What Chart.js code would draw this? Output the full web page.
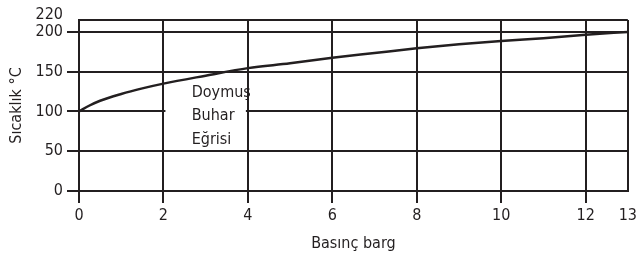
<!DOCTYPE html>
<html><head><meta charset="utf-8">
<script src="https://cdn.jsdelivr.net/npm/chart.js@4/dist/chart.umd.min.js"></script>
<style>html,body{margin:0;padding:0;background:#fff}#wrap{width:640px;height:262px}</style>
</head><body><div id="wrap"><canvas id="c" width="640" height="262"></canvas></div>
<script>
const pressure = [0, 0.25, 0.5, 1, 1.5, 2, 3, 4, 5, 6, 7, 8, 9, 10, 11, 12, 13];
const temperature = [100, 107.5, 113.5, 122, 129, 135, 145, 154.5, 160.5, 167.5, 173.5, 179.5, 184.5, 188.5, 192, 196.5, 200];
const xTicks = [0, 2, 4, 6, 8, 10, 12, 13];
const yTicks = [0, 50, 100, 150, 200];
const yTopLabel = '220';
const curveLabel = ['Doymuş', 'Buhar', 'Eğrisi'];
const xTitle = 'Basınç barg';
const yTitle = 'Sıcaklık °C';

const INK = '#231f20';
const FONT = "'Liberation Sans Narrow', 'DejaVu Sans Condensed', 'Roboto Condensed', sans-serif";
const TOP = 215;

const labelPlugin = {
  id: 'curveLabel',
  beforeDatasetsDraw(chart) {
    const {ctx, scales: {x, y}} = chart;
    ctx.save();
    ctx.fillStyle = '#fff';
    const x0 = x.getPixelForValue(2) + 2, x1 = x.getPixelForValue(4) - 2;
    const y0 = y.getPixelForValue(145), y1 = y.getPixelForValue(56);
    ctx.fillRect(x0, y0, x1 - x0, y1 - y0);
    ctx.fillStyle = INK;
    ctx.font = '16px ' + FONT;
    ctx.textBaseline = 'middle';
    ctx.textAlign = 'left';
    const lx = x.getPixelForValue(2.67);
    const ys = [124, 94, 64];
    curveLabel.forEach((t, i) => ctx.fillText(t, lx, y.getPixelForValue(ys[i])));
    ctx.restore();
  },
  afterDraw(chart) {
    const {ctx, scales: {y}} = chart;
    ctx.save();
    ctx.fillStyle = INK;
    ctx.font = '16px ' + FONT;
    ctx.textAlign = 'right';
    ctx.textBaseline = 'middle';
    ctx.fillText(yTopLabel, y.right - 16, y.getPixelForValue(TOP) - 5);
    ctx.restore();
  }
};

new Chart(document.getElementById('c'), {
  type: 'line',
  data: {
    datasets: [{
      data: pressure.map((p, i) => ({x: p, y: temperature[i]})),
      borderColor: INK,
      borderWidth: 2.5,
      pointRadius: 0,
      cubicInterpolationMode: 'monotone',
      fill: false
    }]
  },
  options: {
    responsive: false,
    animation: false,
    layout: {padding: {top: 20, right: 9, left: 0, bottom: 0}},
    plugins: {legend: {display: false}, tooltip: {enabled: false}},
    scales: {
      x: {
        type: 'linear', min: 0, max: 13,
        afterBuildTicks: s => { s.ticks = xTicks.map(v => ({value: v})); },
        afterFit: s => { s.height = 71; },
        grid: {color: INK, lineWidth: 2, tickLength: 12, drawTicks: true,
               tickColor: c => (c.tick && c.tick.value === 13) ? 'rgba(0,0,0,0)' : INK, tickWidth: 2},
        border: {color: INK, width: 2},
        ticks: {color: INK, font: {family: FONT, size: 16}, padding: 3, maxRotation: 0, autoSkip: false},
        title: {display: true, text: xTitle, color: INK, font: {family: FONT, size: 16}, padding: {top: 0, bottom: 9}}
      },
      y: {
        type: 'linear', min: 0, max: TOP,
        afterBuildTicks: s => { s.ticks = yTicks.concat([TOP]).map(v => ({value: v})); },
        afterFit: s => { s.width = 79; },
        grid: {color: INK, lineWidth: 2, tickLength: 12,
               tickColor: c => (c.tick && c.tick.value === TOP) ? 'rgba(0,0,0,0)' : INK, tickWidth: 2},
        border: {color: INK, width: 2},
        ticks: {color: INK, font: {family: FONT, size: 16}, padding: 4, autoSkip: false,
                callback: v => v === TOP ? '' : String(v)},
        title: {display: true, text: yTitle, color: INK, font: {family: FONT, size: 16}, padding: {top: 7, bottom: 0}}
      }
    }
  },
  plugins: [labelPlugin]
});
</script></body></html>
